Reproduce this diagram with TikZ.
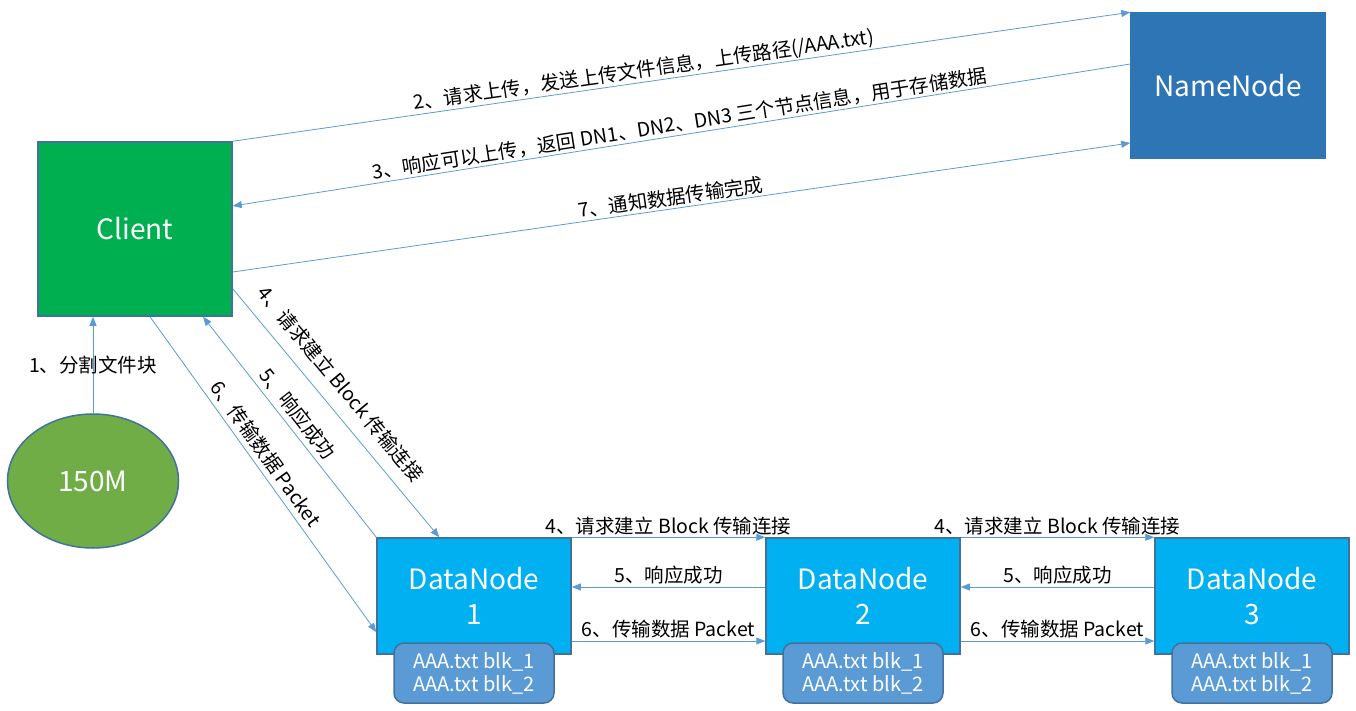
\documentclass[tikz,border=0pt]{standalone}
\usepackage{fontspec}
\setmainfont{Noto Sans CJK SC}
\usepackage{xcolor}
\definecolor{FlowLine}{HTML}{5B9BD5}
\definecolor{NodeBorder}{HTML}{41719C}
\definecolor{ClientFill}{HTML}{00B050}
\definecolor{NameNodeFill}{HTML}{2E75B6}
\definecolor{DataNodeFill}{HTML}{00B0F0}
\definecolor{BlockFill}{HTML}{5B9BD5}
\definecolor{FileFill}{HTML}{70AD47}
\usetikzlibrary{shapes.geometric, arrows.meta}

\begin{document}
\begin{tikzpicture}[x=1pt, y=-1pt,
    >={Triangle[length=9pt, width=7pt]},
    flow/.style={draw=FlowLine, line width=0.8pt},
    msg/.style={text=black, inner sep=2pt, font=\fontsize{19.5}{22}\selectfont},
    hostbox/.style={draw=NodeBorder, line width=1.5pt, text=white, align=center,
        minimum width=194pt, font=\fontsize{28}{35}\selectfont},
    blockbox/.style={draw=NodeBorder, line width=1.5pt, fill=BlockFill, text=white,
        rounded corners=10pt, align=center, minimum width=160pt, minimum height=60pt,
        font=\fontsize{20}{23}\selectfont}]

\useasboundingbox (0,0) rectangle (1356,711);

% hosts
\node[hostbox, fill=ClientFill, minimum height=174pt] (client) at (135,229) {Client};
\node[hostbox, fill=NameNodeFill, draw=NameNodeFill, minimum height=145pt] (namenode) at (1228,85.5) {NameNode};
\node[ellipse, draw=NodeBorder, line width=1.5pt, fill=FileFill, text=white,
    minimum width=171pt, minimum height=134pt, font=\fontsize{28}{35}\selectfont] (file) at (93,481) {150M};

\foreach \i/\x in {1/474, 2/863, 3/1252} {
    \node[hostbox, fill=DataNodeFill, minimum height=116pt] (dn\i) at (\x,596) {DataNode\\\i};
    \node[blockbox] (blk\i) at (\x,673) {AAA.txt blk\_1\\AAA.txt blk\_2};
}

% client and file
\draw[flow, ->] (file.north) -- node[msg] {1、分割文件块} (file.north |- client.south);

% client and namenode
\draw[flow, ->] (client.north east) -- node[msg, sloped, above=-1pt, pos=0.46]
    {2、请求上传，发送上传文件信息，上传路径(/AAA.txt)} (namenode.north west);
\draw[flow, <-] ([yshift=23pt]client.east) -- node[msg, sloped, above, pos=0.5]
    {3、响应可以上传，返回 DN1、DN2、DN3 三个节点信息，用于存储数据} ([yshift=21.5pt]namenode.west);
\draw[flow, ->] ([yshift=-43pt]client.east) -- node[msg, sloped, above, pos=0.49]
    {7、通知数据传输完成} ([yshift=-57.5pt]namenode.west);

% client and first datanode
\draw[flow, ->] ([yshift=28pt]client.south east) -- node[msg, sloped, above=11pt, pos=0.44]
    {4、请求建立 Block 传输连接} ([xshift=63pt]dn1.north west);
\draw[flow, <-] ([xshift=68pt]client.south) -- node[msg, sloped, above=3pt, pos=0.48]
    {5、响应成功} (dn1.north west);
\draw[flow, ->] ([xshift=15pt]client.south) -- node[msg, sloped, above=3pt, pos=0.46]
    {6、传输数据 Packet} ([yshift=-36pt]dn1.west);

% pipeline between datanodes
\foreach \a/\b in {1/2, 2/3} {
    \draw[flow, ->] (dn\a.north east) -- node[msg, above] {4、请求建立 Block 传输连接} (dn\b.north west);
    \draw[flow, <-] ([yshift=9pt]dn\a.east) -- node[msg, above] {5、响应成功} ([yshift=9pt]dn\b.west);
    \draw[flow, ->] ([yshift=-45pt]dn\a.east) -- node[msg, above] {6、传输数据 Packet} ([yshift=-45pt]dn\b.west);
}

\end{tikzpicture}
\end{document}
